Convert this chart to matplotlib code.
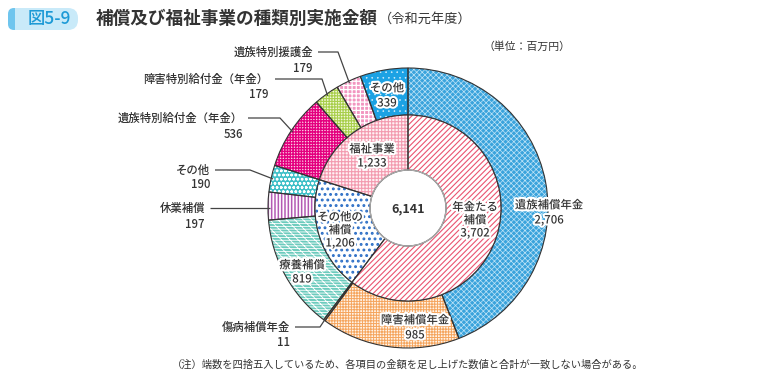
import matplotlib.pyplot as plt
import matplotlib.patheffects as pe
from matplotlib.patches import FancyBboxPatch, Circle
import numpy as np

plt.rcParams['font.family'] = ['Noto Sans CJK JP', 'DejaVu Sans']

# data
outer_labels = ['遺族補償年金', '障害補償年金', '傷病補償年金', '療養補償', '休業補償', 'その他',
                '遺族特別給付金（年金）', '障害特別給付金（年金）', '遺族特別援護金', 'その他']
outer_values = [2706, 985, 11, 819, 197, 190, 536, 179, 179, 339]
inner_labels = ['年金たる\n補償', 'その他の\n補償', '福祉事業']
inner_values = [3702, 1206, 1233]
total = 6141

# styles (face, hatch colour, hatch, hatch lw)
outer_style = [
    ('#3aa3dc', '#bfe4f7', 'xxxxxx', 0.5),
    ('#fff4e8', '#f5a55e', '++++++', 0.7),
    ('#fff4e8', '#f5a55e', '++++++', 0.7),
    ('#6ccbbd', 'white', '\\\\\\\\------', 0.6),
    ('white', '#b45ab4', '|||||', 1.1),
    ('#40c0c8', 'white', 'oooo', 0.7),
    ('#fbd3e6', '#e4007f', '++++++', 1.0),
    ('#f1f7d8', '#a9cf4c', '++++++', 0.8),
    ('#f296c0', 'white', '++++', 0.9),
    ('#1ca2e4', '#d8f0fc', '...', 0.4),
]
inner_style = [
    ('white', '#ea5470', '//////', 0.8),
    ('white', '#2d6fc6', '...', 1.3),
    ('#fff1f4', '#f39bb0', '+++++', 0.8),
]

H = 380
def Y(y):
    return H - y

fig = plt.figure(figsize=(7.6, 3.8), dpi=100)
ax = fig.add_axes([0, 0, 1, 1])

cx, cy = 408, Y(208)
R, R2, R0 = 140, 93, 38

def styled_pie(values, radius, width, styles):
    wedges, _ = ax.pie(values, radius=radius, center=(cx, cy), startangle=90,
                       counterclock=False, wedgeprops=dict(width=width, linewidth=0))
    for w, (fc, hc, h, hlw) in zip(wedges, styles):
        w.set_facecolor(fc)
        w.set_edgecolor(hc)
        w.set_linewidth(0)
        w.set_hatch(h)
        if hasattr(w, 'set_hatch_linewidth'):
            w.set_hatch_linewidth(hlw)
    ax.pie(values, radius=radius, center=(cx, cy), startangle=90, counterclock=False,
           wedgeprops=dict(width=width, fill=False, edgecolor='#333333', linewidth=0.8))
    return wedges

w_out = styled_pie(outer_values, R, R - R2, outer_style)
w_in = styled_pie(inner_values, R2, R2 - R0, inner_style)
ax.add_patch(Circle((cx, cy), R0, fill=False, edgecolor='#aaaaaa', linewidth=1.0))

ax.set_xlim(0, 760)
ax.set_ylim(0, 380)
ax.set_aspect('equal')
ax.axis('off')

tc = '#333333'
halo = [pe.withStroke(linewidth=3, foreground='white')]

def lines_at(x, ys, texts, ha='center', size=8.2, effects=None, weight='medium'):
    for y, t in zip(ys, texts):
        ax.text(x, Y(y), t, ha=ha, va='center', fontsize=size, color=tc,
                path_effects=effects, fontweight=weight)

# outside labels with leader lines: index -> (right x, y1, y2, line start x, elbow x)
outside = {
    8: (313, 52, 68, 318, 338),
    7: (268, 79, 95, 275, 322),
    6: (243, 118, 134, 248, 280),
    5: (210, 170, 185, 215, 250),
    4: (205, 208, 224, 210, None),
    2: (290, 327, 342, 295, 320),
}
for i, (rx, y1, y2, lx, ex) in outside.items():
    lines_at(rx, [y1, y2], [outer_labels[i], f'{outer_values[i]:,}'], ha='right')
    w = w_out[i]
    mid = np.deg2rad((w.theta1 + w.theta2) / 2)
    px, py = cx + (R - 2) * np.cos(mid), cy + (R - 2) * np.sin(mid)
    if ex is None:
        xs, ys = [lx, px], [Y(y1), Y(y1)]
    else:
        xs, ys = [lx, ex, px], [Y(y1), Y(y1), py]
    ax.plot(xs, ys, color='#444444', linewidth=0.9, solid_capstyle='butt')

# labels inside the outer ring
inside = {0: (549, [205, 220]), 1: (415, [320, 335]), 3: (302, [265, 279]), 9: (387, [88, 103])}
for i, (x, ys) in inside.items():
    lines_at(x, ys, [outer_labels[i], f'{outer_values[i]:,}'], effects=halo)

# inner ring labels
inner_pos = [(475, [207, 220, 233]), (340, [217, 230, 243]), (372, [149, 163])]
for (x, ys), lab, v in zip(inner_pos, inner_labels, inner_values):
    lines_at(x, ys, lab.split('\n') + [f'{v:,}'], effects=halo)

lines_at(cx, [209], [f'{total:,}'], size=9, weight='bold')

# title
ax.add_patch(FancyBboxPatch((12, Y(30)), 66, 22, boxstyle='round,pad=0,rounding_size=10',
                            facecolor='#c9eaf9', edgecolor='none'))
ax.add_patch(FancyBboxPatch((8, Y(30)), 12, 22, boxstyle='round,pad=0,rounding_size=6',
                            facecolor='#6fc5ee', edgecolor='none'))
ax.add_patch(plt.Rectangle((15, Y(30)), 6, 22, facecolor='#c9eaf9', edgecolor='none'))
ax.text(49, Y(19), '図5-9', ha='center', va='center', fontsize=12.5, color='#1d9ad6',
        fontweight='medium')
t = ax.text(96, Y(19), '補償及び福祉事業の種類別実施金額', ha='left', va='center',
            fontsize=12.7, color='#333333', fontweight='bold')
fig.canvas.draw()
bb = t.get_window_extent(fig.canvas.get_renderer())
ax.text(bb.x1 + 1, Y(19), '（令和元年度）', ha='left', va='center', fontsize=9.5, color='#333333')

ax.text(527, Y(47), '（単位：百万円）', ha='center', va='center', fontsize=7.8, color=tc)
ax.text(408, Y(365), '（注）端数を四捨五入しているため、各項目の金額を足し上げた数値と合計が一致しない場合がある。',
        ha='center', va='center', fontsize=7.4, color=tc)

fig.savefig('out.png', dpi=100)
